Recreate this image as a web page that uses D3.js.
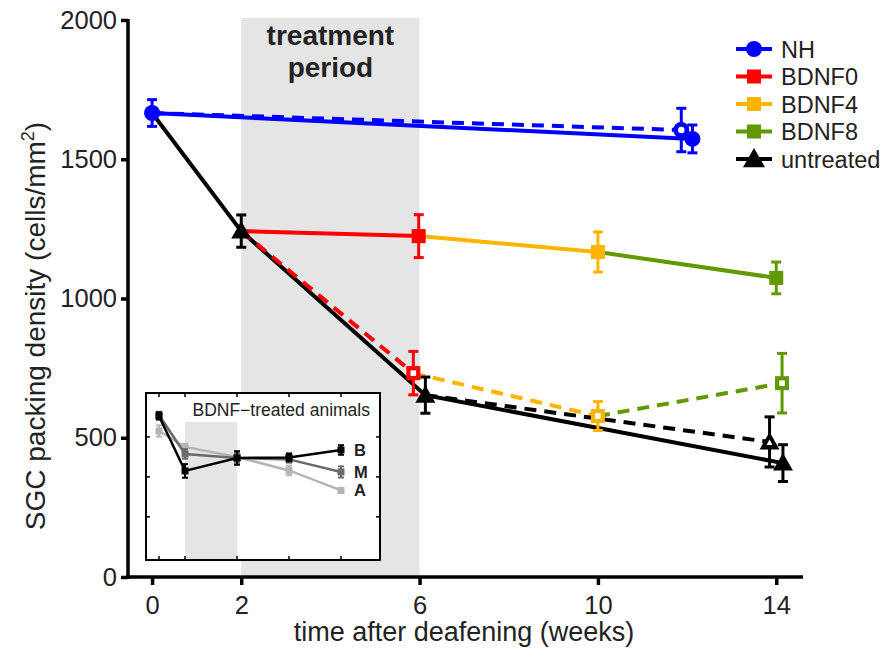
<!DOCTYPE html>
<html><head><meta charset="utf-8">
<script src="https://cdn.jsdelivr.net/npm/d3@7"></script>
<style>
body{margin:0;background:#fff}
svg{display:block}
text{font-family:"Liberation Sans", Arial, Helvetica, sans-serif; fill:#222}
</style>
</head><body>
<svg id="c" width="893" height="650"></svg>
<script>
// ---------- data ----------
const xTickWeeks = [0, 2, 6, 10, 14];
const yTickValues = [0, 500, 1000, 1500, 2000];
const treatmentPeriod = [2, 6];
const legendNames = ["NH", "BDNF0", "BDNF4", "BDNF8", "untreated"];

const nhSolidWeeks = [0, 12.12];
const nhSolidValues = [1666, 1573];
const nhSolidErr = [48, 50];

const nhDashedWeeks = [0, 11.87];
const nhDashedValues = [1666, 1605];
const nhDashedErr = [48, 78];

const untreatedSolidWeeks = [0, 2, 6.13, 14.15];
const untreatedSolidValues = [1666, 1242, 653, 409];
const untreatedSolidErr = [48, 58, 65, 66];

const untreatedDashedWeeks = [6.13, 13.85];
const untreatedDashedValues = [653, 485];
const untreatedDashedErr = [65, 90];

const bdnf0SolidWeeks = [2, 5.98];
const bdnf0SolidValues = [1242, 1224];
const bdnf0SolidErr = [58, 77];

const bdnf4SolidWeeks = [5.98, 10];
const bdnf4SolidValues = [1224, 1167];
const bdnf4SolidErr = [77, 72];

const bdnf8SolidWeeks = [10, 14];
const bdnf8SolidValues = [1167, 1074];
const bdnf8SolidErr = [72, 57];

const bdnf0DashedWeeks = [2, 5.86];
const bdnf0DashedValues = [1242, 732];
const bdnf0DashedErr = [58, 78];

const bdnf4DashedWeeks = [5.86, 10];
const bdnf4DashedValues = [732, 578];
const bdnf4DashedErr = [78, 52];

const bdnf8DashedWeeks = [10, 14.13];
const bdnf8DashedValues = [578, 696];
const bdnf8DashedErr = [52, 107];

// inset: BDNF-treated animals by region
const insetWeeks = [0, 2, 6, 10, 14];
const insetTickValues = [500, 1000, 1500];
const insetBandWeeks = [2, 6];
const insetNames = ["A", "M", "B"];
const insetA = [1575, 1375, 1250, 1081, 831];
const insetAErr = [70, 40, 50, 60, 30];
const insetM = [1775, 1287, 1237, 1219, 1062];
const insetMErr = [40, 60, 60, 40, 70];
const insetB = [1762, 1075, 1237, 1244, 1337];
const insetBErr = [45, 85, 85, 50, 60];

// ---------- styles ----------
const COL = {NH:"#0000ff", BDNF0:"#ff0000", BDNF4:"#ffb400", BDNF8:"#619a00", untreated:"#000000"};
const MK = {NH:"circle", BDNF0:"square", BDNF4:"square", BDNF8:"square", untreated:"triangle"};
const INSET_COL = {A:"#b4b4b4", M:"#6a6a6a", B:"#000000"};

const svg = d3.select("#c");
const x = d3.scaleLinear().domain([-0.54, 14.6]).range([128, 803]);
const y = d3.scaleLinear().domain([0, 2000]).range([577, 20]);

// treatment band
svg.append("rect")
  .attr("x", x(treatmentPeriod[0])).attr("y", 18)
  .attr("width", x(treatmentPeriod[1]) - x(treatmentPeriod[0]))
  .attr("height", 577 - 18)
  .attr("fill", "#e5e5e5");

svg.append("text").attr("x", (x(2)+x(6))/2).attr("y", 45)
  .attr("text-anchor","middle").style("font-weight","bold").style("font-size","28px").text("treatment");
svg.append("text").attr("x", (x(2)+x(6))/2).attr("y", 77)
  .attr("text-anchor","middle").style("font-weight","bold").style("font-size","28px").text("period");

// segments
function seg(name, weeks, values, errs, dashed, markFrom) {
  return {name, pts: weeks.map((w,i)=>({w, v:values[i], e:errs[i], mark: i>=markFrom})), dashed};
}
const segments = [
  seg("NH", nhSolidWeeks, nhSolidValues, nhSolidErr, false, 0),
  seg("untreated", untreatedSolidWeeks, untreatedSolidValues, untreatedSolidErr, false, 1),
  seg("BDNF0", bdnf0SolidWeeks, bdnf0SolidValues, bdnf0SolidErr, false, 1),
  seg("BDNF4", bdnf4SolidWeeks, bdnf4SolidValues, bdnf4SolidErr, false, 1),
  seg("BDNF8", bdnf8SolidWeeks, bdnf8SolidValues, bdnf8SolidErr, false, 1),
  seg("NH", nhDashedWeeks, nhDashedValues, nhDashedErr, true, 1),
  seg("BDNF0", bdnf0DashedWeeks, bdnf0DashedValues, bdnf0DashedErr, true, 1),
  seg("BDNF4", bdnf4DashedWeeks, bdnf4DashedValues, bdnf4DashedErr, true, 1),
  seg("BDNF8", bdnf8DashedWeeks, bdnf8DashedValues, bdnf8DashedErr, true, 1),
  seg("untreated", untreatedDashedWeeks, untreatedDashedValues, untreatedDashedErr, true, 1)
];

const line = d3.line().x(d=>x(d.w)).y(d=>y(d.v));
const gLines = svg.append("g");
segments.forEach(s => {
  gLines.append("path").attr("d", line(s.pts)).attr("fill","none")
    .attr("stroke", COL[s.name]).attr("stroke-width", 4)
    .attr("stroke-dasharray", s.dashed ? "12,8" : null);
});

function drawMarker(g, type, cx, cy, color, open, size) {
  const s = size || 1;
  if (type === "circle") {
    g.append("circle").attr("cx",cx).attr("cy",cy).attr("r",8*s).attr("fill",color);
    if (open) g.append("circle").attr("cx",cx).attr("cy",cy).attr("r",3.2*s).attr("fill","#fff");
  } else if (type === "square") {
    const h = 7*s;
    g.append("rect").attr("x",cx-h).attr("y",cy-h).attr("width",2*h).attr("height",2*h).attr("fill",color);
    if (open) g.append("rect").attr("x",cx-2.8*s).attr("y",cy-2.8*s).attr("width",5.6*s).attr("height",5.6*s).attr("fill","#fff");
  } else {
    const w = 10*s, hh = 10*s;
    g.append("path").attr("d",`M${cx},${cy-hh}L${cx+w},${cy+hh*0.75}L${cx-w},${cy+hh*0.75}Z`).attr("fill",color);
    if (open) g.append("path").attr("d",`M${cx},${cy-2.5*s}L${cx+3*s},${cy+3*s}L${cx-3*s},${cy+3*s}Z`).attr("fill","#fff");
  }
}

const gMarks = svg.append("g");
segments.forEach(s => {
  s.pts.filter(p=>p.mark).forEach(p => {
    const cx = x(p.w), c = COL[s.name];
    const y1 = y(p.v + p.e), y2 = y(p.v - p.e);
    gMarks.append("line").attr("x1",cx).attr("x2",cx).attr("y1",y1).attr("y2",y2).attr("stroke",c).attr("stroke-width",3);
    [y1,y2].forEach(yy => gMarks.append("line").attr("x1",cx-5).attr("x2",cx+5).attr("y1",yy).attr("y2",yy).attr("stroke",c).attr("stroke-width",3));
    drawMarker(gMarks, MK[s.name], cx, y(p.v), c, s.dashed);
  });
});

// axes
const yAxis = d3.axisLeft(y).tickValues(yTickValues).tickFormat(d3.format("d")).tickSize(7).tickSizeOuter(0).tickPadding(4);
const gy = svg.append("g").attr("transform","translate(128,0)").call(yAxis);
gy.select(".domain").remove();
gy.selectAll(".tick line").attr("stroke","#000").attr("stroke-width",3.5);
gy.selectAll(".tick text").style("font-size","25.5px").attr("fill","#222").attr("font-family",null);

const xAxis = d3.axisBottom(x).tickValues(xTickWeeks).tickFormat(d3.format("d")).tickSize(8).tickSizeOuter(0).tickPadding(11);
const gx = svg.append("g").attr("transform","translate(0,577)").call(xAxis);
gx.select(".domain").remove();
gx.selectAll(".tick line").attr("stroke","#000").attr("stroke-width",3.5);
gx.selectAll(".tick text").style("font-size","25.5px").attr("fill","#222").attr("font-family",null);

svg.append("line").attr("x1",128).attr("x2",128).attr("y1",19).attr("y2",579).attr("stroke","#000").attr("stroke-width",3.5);
svg.append("line").attr("x1",126).attr("x2",803).attr("y1",577).attr("y2",577).attr("stroke","#000").attr("stroke-width",3.5);

svg.append("text").attr("x", 464).attr("y", 641).attr("text-anchor","middle").style("font-size","27px")
  .text("time after deafening (weeks)");

const yl = svg.append("text").attr("transform","translate(45,326) rotate(-90)").attr("text-anchor","middle").style("font-size","28px");
yl.append("tspan").text("SGC packing density (cells/mm");
yl.append("tspan").attr("dy",-11).style("font-size","18px").text("2");
yl.append("tspan").attr("dy",11).text(")");

// legend
const gLeg = svg.append("g");
legendNames.forEach((n,i) => {
  const cy = 49 + i*27.5;
  gLeg.append("line").attr("x1",736).attr("x2",772).attr("y1",cy).attr("y2",cy).attr("stroke",COL[n]).attr("stroke-width",4);
  drawMarker(gLeg, MK[n], 754, cy, COL[n], false, n==="untreated"?1.1:1);
  gLeg.append("text").attr("x",781).attr("y",cy+8.5).style("font-size","23.5px").text(n);
});

// inset
const ix = d3.scaleLinear().domain([-1, 17]).range([146, 380]);
const iy = d3.scaleLinear().domain([-40, 2050]).range([560, 393]);
const gi = svg.append("g");
gi.append("rect").attr("x",146).attr("y",393).attr("width",234).attr("height",167).attr("fill","#fff");
gi.append("rect").attr("x",ix(insetBandWeeks[0])).attr("y",422).attr("width",ix(insetBandWeeks[1])-ix(insetBandWeeks[0])).attr("height",138).attr("fill","#e5e5e5");
insetWeeks.forEach(w => {
  gi.append("line").attr("x1",ix(w)).attr("x2",ix(w)).attr("y1",393).attr("y2",397).attr("stroke","#000").attr("stroke-width",1.5);
  gi.append("line").attr("x1",ix(w)).attr("x2",ix(w)).attr("y1",556).attr("y2",560).attr("stroke","#000").attr("stroke-width",1.5);
});
insetTickValues.forEach(v => {
  gi.append("line").attr("x1",146).attr("x2",150).attr("y1",iy(v)).attr("y2",iy(v)).attr("stroke","#000").attr("stroke-width",1.5);
  gi.append("line").attr("x1",376).attr("x2",380).attr("y1",iy(v)).attr("y2",iy(v)).attr("stroke","#000").attr("stroke-width",1.5);
});
const insetData = {A:[insetA,insetAErr], M:[insetM,insetMErr], B:[insetB,insetBErr]};
const iline = d3.line().x((d,i)=>ix(insetWeeks[i])).y(d=>iy(d));
insetNames.forEach(n => {
  const [vals, errs] = insetData[n], c = INSET_COL[n];
  gi.append("path").attr("d", iline(vals)).attr("fill","none").attr("stroke",c).attr("stroke-width",2.5);
  vals.forEach((v,i) => {
    const cx = ix(insetWeeks[i]), y1 = iy(v+errs[i]), y2 = iy(v-errs[i]);
    gi.append("line").attr("x1",cx).attr("x2",cx).attr("y1",y1).attr("y2",y2).attr("stroke",c).attr("stroke-width",2);
    [y1,y2].forEach(yy => gi.append("line").attr("x1",cx-3).attr("x2",cx+3).attr("y1",yy).attr("y2",yy).attr("stroke",c).attr("stroke-width",2));
    gi.append("rect").attr("x",cx-3.5).attr("y",iy(v)-3.5).attr("width",7).attr("height",7).attr("fill",c);
  });
  gi.append("text").attr("x",354).attr("y",iy(vals[4])+6).style("font-size","16.5px").style("font-weight","bold").text(n);
});
gi.append("rect").attr("x",146).attr("y",393).attr("width",234).attr("height",167).attr("fill","none").attr("stroke","#000").attr("stroke-width",2);
gi.append("text").attr("x",370).attr("y",416).attr("text-anchor","end").style("font-size","17.5px").text("BDNF\u2212treated animals");
</script>
</body></html>
